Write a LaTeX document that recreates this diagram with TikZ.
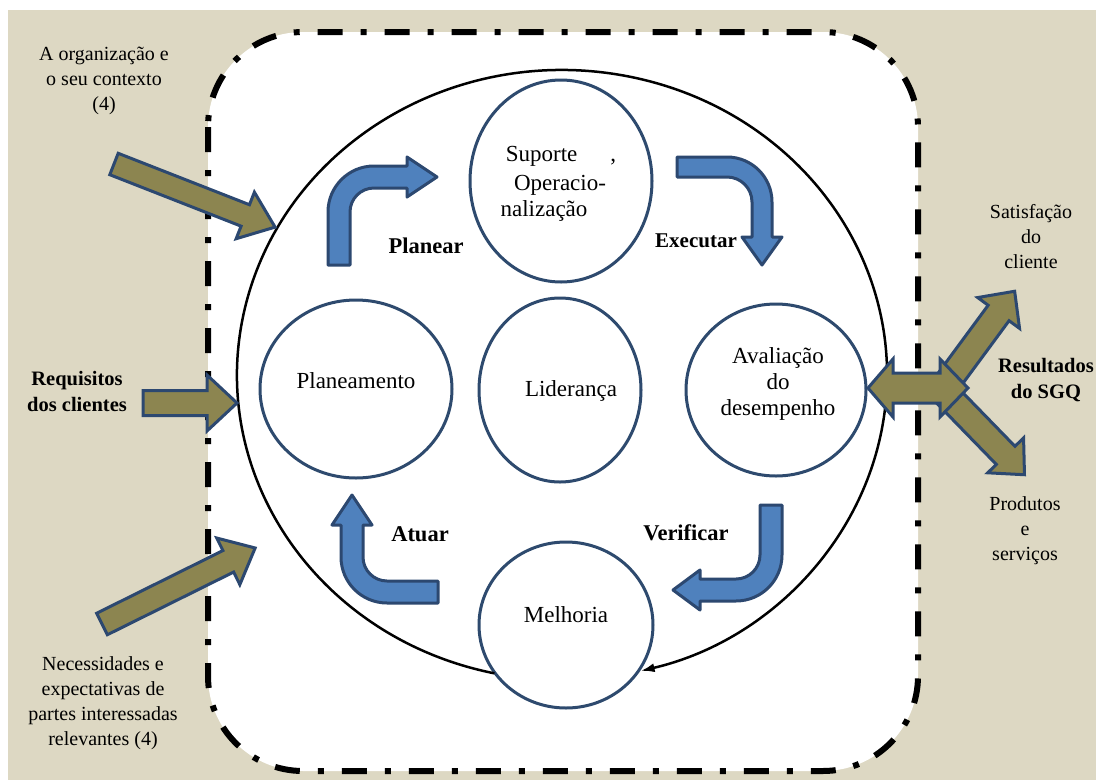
\documentclass[tikz,border=0pt]{standalone}
\usepackage{fontspec}
\setmainfont{Liberation Serif}
\usetikzlibrary{shapes.geometric,arrows.meta}
\definecolor{beige}{RGB}{221,216,195}
\definecolor{olivef}{RGB}{140,133,80}
\definecolor{darkb}{RGB}{44,72,112}
\definecolor{bluef}{RGB}{79,129,189}
\definecolor{circb}{RGB}{46,74,110}
% tail x, tail y, angle, length, shaft half width, head half width, head length
\newcommand\olivearrow[7]{%
  \draw[oarrow, shift={(#1,#2)}, rotate=#3]
    (0,-#5) -- ({#4-#7},-#5) -- ({#4-#7},-#6) -- (#4,0) -- ({#4-#7},#6) -- ({#4-#7},#5) -- (0,#5) -- cycle;}
\begin{document}
\begin{tikzpicture}[x=1pt,y=-1pt,
  oarrow/.style={fill=olivef, draw=darkb, line width=3pt, line join=miter},
  barrow/.style={fill=bluef, draw=darkb, line width=3pt, line join=round},
  circ/.style={ellipse, draw=circb, line width=3pt, fill=white, inner sep=0pt},
  ringline/.style={draw=black, line width=2.5pt, -{Latex[length=14pt,width=9pt]}},
  lbl/.style={font=\fontsize{23}{26}\selectfont, inner sep=0pt, align=center},
  blbl/.style={font=\bfseries\fontsize{22.5}{26}\selectfont, inner sep=0pt},
  side/.style={font=\fontsize{20}{25}\selectfont, align=center, inner sep=0pt},
  bside/.style={font=\bfseries\fontsize{20.5}{26}\selectfont, align=center, inner sep=0pt}]
\useasboundingbox (0,0) rectangle (1096,780);
\fill[white] (0,0) rectangle (1096,780);
\fill[beige] (8,10) rectangle (1096,780);
% dash-dot boundary
\draw[line width=6pt, dash pattern=on 25pt off 18pt on 6pt off 18pt, fill=white, rounded corners=95pt]
  (208,32) rectangle (918,771);
% circles
\node[circ, minimum width=182pt, minimum height=202pt] (sup) at (561,181) {};
\node[circ, minimum width=192pt, minimum height=178pt] (plan) at (356,389) {};
\node[circ, minimum width=162pt, minimum height=184pt] (lid) at (560,390) {};
\node[circ, minimum width=180pt, minimum height=172pt] (aval) at (776,390) {};
\node[circ, minimum width=174pt, minimum height=166pt] (melh) at (566,625) {};
% outer cycle ring
\coordinate (ring) at (562,375);
\draw[ringline] (ring) ++(102:325 and 305) arc[start angle=102, end angle=436, x radius=325, y radius=305];
% texts in circles
\node[lbl] (t1) at (561,156) {Suporte\hspace{33pt},};
\node[lbl] (t2) at (560,185) {Operacio-};
\node[lbl] (t3) at (544,211) {nalização};
\node[lbl] (tplan) at (356,381) {Planeamento};
\node[lbl] (tlid) at (571,391) {Liderança};
\node[lbl] (taval) at (778,384) {Avaliação\\do\\desempenho};
\node[lbl] (tmelh) at (566,615) {Melhoria};
% cycle labels
\node[blbl] (lplan) at (426,246) {Planear};
\node[blbl, font=\bfseries\fontsize{21}{24}\selectfont] (lexec) at (696,241) {Executar};
\node[blbl] (lver) at (686,533) {Verificar};
\node[blbl] (latu) at (420,534) {Atuar};
% blue bent arrows
\draw[barrow] (328,265) -- (328,212) arc[start angle=180,end angle=270,radius=46] -- (407,166) -- (407,157) -- (437,177) -- (407,197) -- (407,188) -- (374,188) arc[start angle=270,end angle=180,radius=24] -- (350,265) -- cycle;
\draw[barrow] (677,157) -- (727,157) arc[start angle=270,end angle=360,radius=45] -- (772,237) -- (782,237) -- (762,265) -- (742,237) -- (752,237) -- (752,202) arc[start angle=0,end angle=-90,radius=25] -- (677,177) -- cycle;
\draw[barrow] (760,505) -- (782,505) -- (782,555) arc[start angle=0,end angle=90,radius=46] -- (700,601) -- (700,610) -- (673,590) -- (700,570) -- (700,579) -- (736,579) arc[start angle=90,end angle=0,radius=24] -- cycle;
\draw[barrow] (438,581) -- (387,581) arc[start angle=90,end angle=180,radius=24] -- (363,525) -- (372,525) -- (352,495) -- (332,525) -- (341,525) -- (341,557) arc[start angle=180,end angle=90,radius=46] -- (438,603) -- cycle;
% olive input arrows
\olivearrow{114}{164}{-21.4}{173}{11.5}{25}{32}
\olivearrow{143}{403}{0}{94}{12.5}{28}{30}
\olivearrow{102}{624}{26.4}{171}{12}{26}{30}
% olive output arrows
\olivearrow{947}{383}{53.6}{114}{13}{26}{27}
\olivearrow{945}{393}{-45.8}{114}{13}{25}{27}
\draw[oarrow] (868,388) -- (893,359) -- (893,373) -- (940,373) -- (940,359) -- (968,388) -- (940,417) -- (940,403) -- (893,403) -- (893,417) -- cycle;
% outside texts
\node[side] (org) at (104,81) {A organização e\\o seu contexto\\(4)};
\node[bside] (req) at (77,391) {Requisitos\\dos clientes};
\node[side] (nec) at (103,703) {Necessidades e\\expectativas de\\partes interessadas\\relevantes (4)};
\node[side] (sat) at (1031,237) {Satisfação\\do\\cliente};
\node[bside] (res) at (1046,380) {Resultados\\do SGQ};
\node[side] (prod) at (1025,531) {Produtos\\e\\serviços};
\end{tikzpicture}
\end{document}
